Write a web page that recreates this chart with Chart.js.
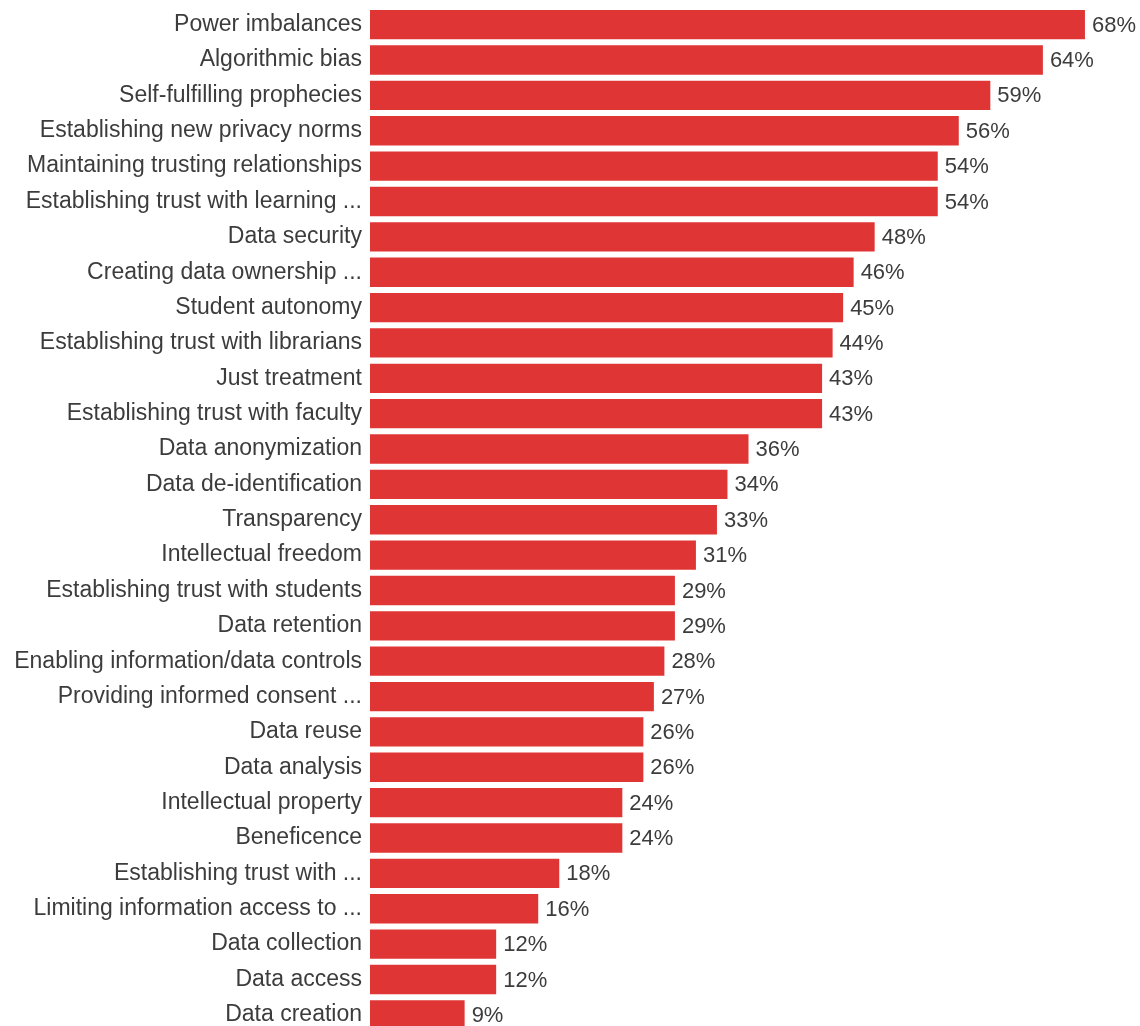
<!DOCTYPE html>
<html>
<head>
<meta charset="utf-8">
<script src="https://cdn.jsdelivr.net/npm/chart.js@4/dist/chart.umd.min.js"></script>
<style>
  html, body { margin: 0; padding: 0; background: #ffffff; overflow: hidden; }
  canvas { display: block; }
</style>
</head>
<body>
<canvas id="chart" width="1140" height="1040"></canvas>
<script>
// Share of respondents naming each concern (percent)
const categories = [
  "Power imbalances",
  "Algorithmic bias",
  "Self-fulfilling prophecies",
  "Establishing new privacy norms",
  "Maintaining trusting relationships",
  "Establishing trust with learning ...",
  "Data security",
  "Creating data ownership ...",
  "Student autonomy",
  "Establishing trust with librarians",
  "Just treatment",
  "Establishing trust with faculty",
  "Data anonymization",
  "Data de-identification",
  "Transparency",
  "Intellectual freedom",
  "Establishing trust with students",
  "Data retention",
  "Enabling information/data controls",
  "Providing informed consent ...",
  "Data reuse",
  "Data analysis",
  "Intellectual property",
  "Beneficence",
  "Establishing trust with ...",
  "Limiting information access to ...",
  "Data collection",
  "Data access",
  "Data creation"
];

const percentages = [
  68, 64, 59, 56, 54, 54, 48, 46, 45, 44, 43, 43, 36, 34, 33,
  31, 29, 29, 28, 27, 26, 26, 24, 24, 18, 16, 12, 12, 9
];

const FONT = "'Liberation Sans', Arial, sans-serif";
const TEXT = "#3c3c3c";

// Writes the percentage just past the end of each bar
const valueLabels = {
  id: "valueLabels",
  afterDatasetsDraw(chart) {
    const ctx = chart.ctx;
    const meta = chart.getDatasetMeta(0);
    ctx.save();
    ctx.font = "22px " + FONT;
    ctx.fillStyle = TEXT;
    ctx.textAlign = "left";
    ctx.textBaseline = "middle";
    meta.data.forEach((bar, i) => {
      ctx.fillText(percentages[i] + "%", bar.x + 7, bar.y + 1);
    });
    ctx.restore();
  }
};

new Chart(document.getElementById("chart"), {
  type: "bar",
  data: {
    labels: categories,
    datasets: [{
      data: percentages,
      backgroundColor: "#e03535",
      borderWidth: 0,
      categoryPercentage: 1.0,
      barPercentage: 0.83
    }]
  },
  options: {
    indexAxis: "y",
    responsive: false,
    animation: false,
    layout: { padding: { top: 7, bottom: 7.5, left: 0, right: 13 } },
    plugins: {
      legend: { display: false },
      tooltip: { enabled: false }
    },
    scales: {
      x: {
        display: false,
        min: 0,
        max: 72
      },
      y: {
        afterFit(scale) {
          scale.width = 370;
          scale.paddingTop = 0;
          scale.paddingBottom = 0;
        },
        grid: { display: false, drawTicks: false },
        border: { display: false },
        ticks: {
          padding: 8,
          color: TEXT,
          font: { family: FONT, size: 23 },
          autoSkip: false
        }
      }
    }
  },
  plugins: [valueLabels]
});
</script>
</body>
</html>
